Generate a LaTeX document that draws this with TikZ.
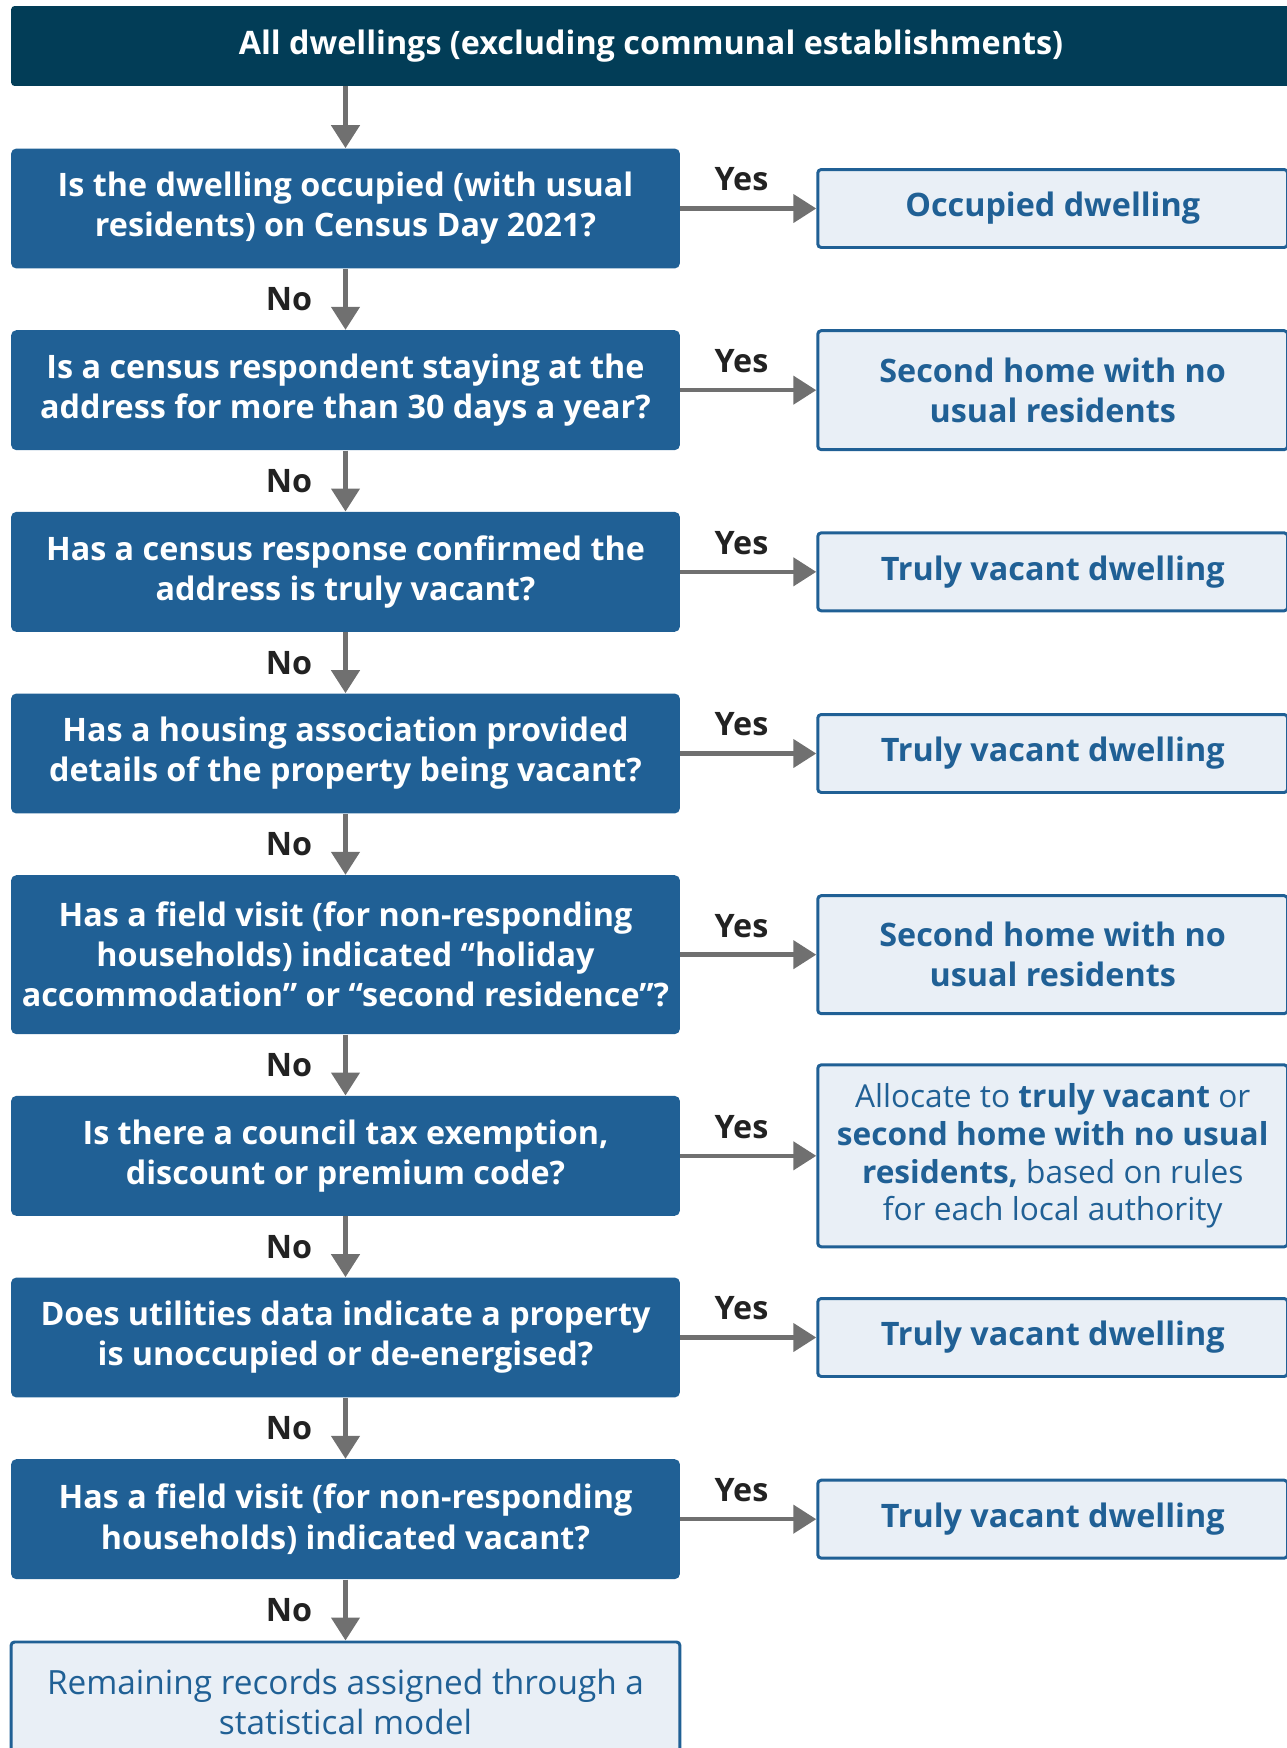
\documentclass[tikz,border=0pt]{standalone}
\usepackage{fontspec}
\setmainfont{Open Sans}
\usetikzlibrary{arrows.meta,positioning}

\definecolor{onsdark}{HTML}{023D57}
\definecolor{onsblue}{HTML}{206095}
\definecolor{onslight}{HTML}{E9EFF6}
\definecolor{arrowgray}{HTML}{707070}
\definecolor{labelgray}{HTML}{222222}

\begin{document}
\begin{tikzpicture}[x=0.02cm,y=-0.02cm]
\useasboundingbox (0,0) rectangle (1286,1748);

\begin{scope}[node distance=1.22cm,
              every node/.style={align=center,inner sep=0pt,
                font=\bfseries\fontsize{18.4}{22.8}\selectfont},
              qbox/.style={fill=onsblue,text=white,rounded corners=3pt,
                minimum width=13.38cm,minimum height=2.4cm},
              abox/.style={fill=onslight,draw=onsblue,line width=1.7pt,
                text=onsblue,rounded corners=2pt,
                minimum width=9.4cm,minimum height=1.56cm}]
\node[fill=onsdark,text=white,rounded corners=2pt,
      minimum width=25.6cm,minimum height=1.6cm] (all) at (651,46)
  {All dwellings (excluding communal establishments)};

\node[qbox] (q1) at (345.5,208.5) {Is the dwelling occupied (with usual\\residents) on Census Day 2021?};
\node[qbox,below=of q1] (q2) {Is a census respondent staying at the\\address for more than 30 days a year?};
\node[qbox,below=of q2] (q3) {Has a census response confirmed the\\address is truly vacant?};
\node[qbox,below=of q3] (q4) {Has a housing association provided\\details of the property being vacant?};
\node[qbox,below=of q4,minimum height=3.18cm] (q5) {Has a field visit (for non-responding\\households) indicated “holiday\\accommodation” or “second residence”?};
\node[qbox,below=of q5] (q6) {Is there a council tax exemption,\\discount or premium code?};
\node[qbox,below=of q6] (q7) {Does utilities data indicate a property\\is unoccupied or de-energised?};
\node[qbox,below=of q7] (q8) {Has a field visit (for non-responding\\households) indicated vacant?};
\node[abox,below=of q8,minimum width=13.38cm,minimum height=2.4cm,
      font=\mdseries\fontsize{19}{22.8}\selectfont] (model)
  {Remaining records assigned through a\\statistical model};

\node[abox,right=2.72cm of q1] (a1) {Occupied dwelling};
\node[abox,right=2.72cm of q2,minimum height=2.38cm] (a2) {Second home with no\\usual residents};
\node[abox,right=2.72cm of q3] (a3) {Truly vacant dwelling};
\node[abox,right=2.72cm of q4] (a4) {Truly vacant dwelling};
\node[abox,right=2.72cm of q5,minimum height=2.36cm] (a5) {Second home with no\\usual residents};
\node[abox,right=2.72cm of q6,minimum height=3.64cm,
      font=\mdseries\fontsize{18}{21.6}\selectfont] (a6)
  {Allocate to \textbf{truly vacant} or\\\textbf{second home with no usual}\\\textbf{residents,} based on rules\\for each local authority};
\node[abox,right=2.72cm of q7] (a7) {Truly vacant dwelling};
\node[abox,right=2.72cm of q8] (a8) {Truly vacant dwelling};
\end{scope}

\begin{scope}[>={Triangle[length=0.46cm,width=0.56cm]},
              every node/.style={text=labelgray,inner sep=0pt,
                font=\bfseries\fontsize{18.4}{22.8}\selectfont},
              every edge/.style={draw=arrowgray,line width=2.6pt}]
\path [->] (all.south -| q1.north) edge (q1.north);
\path [->] (q1) edge node[midway,left=0.62cm] {No} (q2);
\path [->] (q2) edge node[midway,left=0.62cm] {No} (q3);
\path [->] (q3) edge node[midway,left=0.62cm] {No} (q4);
\path [->] (q4) edge node[midway,left=0.62cm] {No} (q5);
\path [->] (q5) edge node[midway,left=0.62cm] {No} (q6);
\path [->] (q6) edge node[midway,left=0.62cm] {No} (q7);
\path [->] (q7) edge node[midway,left=0.62cm] {No} (q8);
\path [->] (q8) edge node[midway,left=0.62cm] {No} (model);
\path [->] (q1) edge node[pos=0.45,above=0.3cm] {Yes} (a1);
\path [->] (q2) edge node[pos=0.45,above=0.3cm] {Yes} (a2);
\path [->] (q3) edge node[pos=0.45,above=0.3cm] {Yes} (a3);
\path [->] (q4) edge node[pos=0.45,above=0.3cm] {Yes} (a4);
\path [->] (q5) edge node[pos=0.45,above=0.3cm] {Yes} (a5);
\path [->] (q6) edge node[pos=0.45,above=0.3cm] {Yes} (a6);
\path [->] (q7) edge node[pos=0.45,above=0.3cm] {Yes} (a7);
\path [->] (q8) edge node[pos=0.45,above=0.3cm] {Yes} (a8);
\end{scope}
\end{tikzpicture}
\end{document}
